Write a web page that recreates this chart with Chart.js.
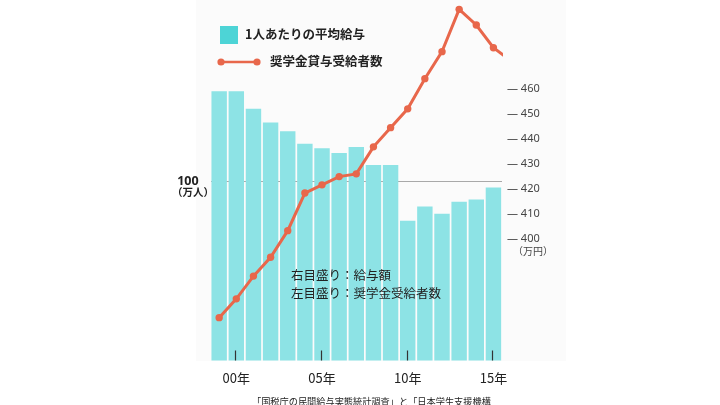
<!DOCTYPE html>
<html><head><meta charset="utf-8">
<script src="https://cdn.jsdelivr.net/npm/chart.js@4.4.1/dist/chart.umd.min.js"></script>
<style>
html,body{margin:0;padding:0;background:#fff;width:720px;height:405px;overflow:hidden;font-family:"Noto Sans CJK JP","Noto Sans",sans-serif;}
#wrap{position:relative;width:720px;height:405px;}
canvas{position:absolute;left:0;top:0;}
.t{position:absolute;white-space:nowrap;color:#222;line-height:1;}
</style></head>
<body><div id="wrap">
<canvas id="c" width="720" height="405"></canvas>
<div class="t" style="left:220px;top:26px;width:18px;height:18px;background:#4dd4d6;"></div>
<div class="t" style="left:245px;top:28px;font-size:12.5px;font-weight:700;">1人あたりの平均給与</div>
<svg class="t" style="left:216px;top:56px;" width="46" height="12"><line x1="5" y1="6" x2="41" y2="6" stroke="#e8674b" stroke-width="2.5"/><circle cx="5" cy="6" r="3.6" fill="#e8674b"/><circle cx="41" cy="6" r="3.6" fill="#e8674b"/></svg>
<div class="t" style="left:270px;top:55px;font-size:12.5px;font-weight:700;">奨学金貸与受給者数</div>
<div class="t" style="left:172px;top:187px;font-size:10.5px;font-weight:700;">（万人）</div>
<div class="t" style="left:513px;top:246px;font-size:10px;color:#444;">（万円）</div>
<div class="t" style="left:291px;top:269px;font-size:12.5px;">右目盛り：給与額</div>
<div class="t" style="left:291px;top:287px;font-size:12.5px;">左目盛り：奨学金受給者数</div>
<div class="t" style="left:252px;top:397px;font-size:9.2px;">「国税庁の民間給与実態統計調査」と「日本学生支援機構</div>
</div>
<script>
const years = ['1999','2000','2001','2002','2003','2004','2005','2006','2007','2008','2009','2010','2011','2012','2013','2014','2015','2016'];
const salary = [459, 459, 452, 446.5, 443, 438, 436.2, 434.3, 436.7, 429.5, 429.5, 407.3, 413, 410.1, 414.9, 415.8, 420.6, null];
const recipients = [65.3, 70.1, 75.9, 80.7, 87.5, 97.1, 99.2, 101.3, 102.0, 108.9, 113.8, 118.6, 126.3, 133.2, 144.0, 140.0, 134.2, 130.9];
const salaryTicks = [400, 410, 420, 430, 440, 450, 460];
const recipientTicks = [100];
const legendLabels = ['1人あたりの平均給与', '奨学金貸与受給者数'];
const lastShownIndex = 16;

const panel = {
  id: 'panel',
  beforeDraw(chart) {
    const ctx = chart.ctx;
    ctx.save();
    ctx.fillStyle = '#fbfbfb';
    ctx.fillRect(196, 0, 370, 361);
    ctx.restore();
  }
};
const tickMarks = {
  id: 'tickMarks',
  afterDatasetsDraw(chart) {
    const x = chart.scales.x, ctx = chart.ctx, b = chart.chartArea.bottom;
    ctx.save();
    ctx.strokeStyle = '#333';
    ctx.lineWidth = 1.2;
    years.forEach((y, i) => {
      if (i <= lastShownIndex && (+y) % 5 === 0) {
        const px = Math.round(x.getPixelForValue(i)) - 0.5;
        ctx.beginPath(); ctx.moveTo(px, b - 10); ctx.lineTo(px, b); ctx.stroke();
      }
    });
    ctx.restore();
  }
};

new Chart(document.getElementById('c'), {
  data: {
    labels: years,
    datasets: [
      { type: 'line', label: legendLabels[1], data: recipients, yAxisID: 'yL', order: 0,
        borderColor: '#e8674b', backgroundColor: '#e8674b', borderWidth: 3,
        pointRadius: 3.7, pointBackgroundColor: '#e8674b', pointBorderWidth: 0, tension: 0,
        clip: { left: 6, top: 8, right: 1, bottom: 6 } },
      { type: 'bar', label: legendLabels[0], data: salary, yAxisID: 'yR', order: 1,
        backgroundColor: '#8de3e5', categoryPercentage: 1, barPercentage: 0.9 }
    ]
  },
  options: {
    responsive: false, animation: false, devicePixelRatio: 1,
    layout: { padding: { top: 4, left: 0, right: 0, bottom: 0 } },
    plugins: { legend: { display: false }, tooltip: { enabled: false }, title: { display: false } },
    scales: {
      x: { type: 'category', offset: true,
        afterDataLimits: s => { s.max = lastShownIndex; },
        grid: { display: false, drawTicks: false }, border: { display: false },
        ticks: { autoSkip: false, maxRotation: 0, padding: 10, color: '#222',
          font: { size: 13, family: '"Noto Sans CJK JP", sans-serif' },
          callback: (v, i) => ((+years[i]) % 5 === 0 ? years[i].slice(2) + '年' : '') },
        afterFit: s => { s.height = 44.5; } },
      yL: { position: 'left', min: 54.36, max: 145.36,
        afterBuildTicks: s => { s.ticks = recipientTicks.map(v => ({ value: v })); },
        grid: { color: '#a9a9a9', lineWidth: 1, drawTicks: false }, border: { display: false },
        ticks: { padding: 12, color: '#222', font: { size: 12.5, weight: 'bold', family: '"Noto Sans", sans-serif' } },
        afterFit: s => { s.width = 210.6; s.paddingTop = 0; s.paddingBottom = 0; } },
      yR: { position: 'right', min: 351.5, max: 493.8,
        afterBuildTicks: s => { s.ticks = salaryTicks.map(v => ({ value: v })); },
        grid: { display: false, drawTicks: false }, border: { display: false },
        ticks: { padding: 5, color: '#444', font: { size: 11, family: '"Noto Sans", sans-serif' },
          callback: v => '— ' + v },
        afterFit: s => { s.width = 218; s.paddingTop = 0; s.paddingBottom = 0; } }
    }
  },
  plugins: [panel, tickMarks]
});
</script>
</body></html>
